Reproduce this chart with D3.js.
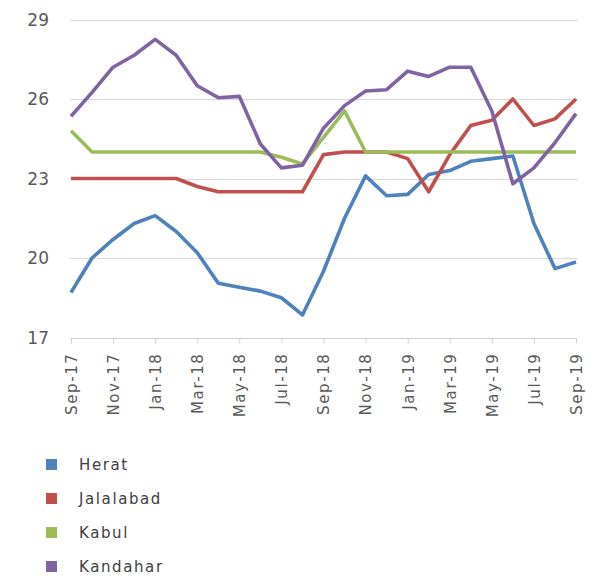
<!DOCTYPE html>
<html>
<head>
<meta charset="utf-8">
<script src="https://cdn.jsdelivr.net/npm/d3@7"></script>
<style>
  html, body { margin: 0; padding: 0; background: #fff; }
  svg { display: block; }
</style>
</head>
<body>
<svg id="chart" width="594" height="579"></svg>
<script>
const months = ["Sep-17","Oct-17","Nov-17","Dec-17","Jan-18","Feb-18","Mar-18","Apr-18","May-18","Jun-18","Jul-18","Aug-18","Sep-18","Oct-18","Nov-18","Dec-18","Jan-19","Feb-19","Mar-19","Apr-19","May-19","Jun-19","Jul-19","Aug-19","Sep-19"];
const tickLabels = ["Sep-17","Nov-17","Jan-18","Mar-18","May-18","Jul-18","Sep-18","Nov-18","Jan-19","Mar-19","May-19","Jul-19","Sep-19"];
const yTicks = [17, 20, 23, 26, 29];

const herat     = [18.7, 20.0, 20.7, 21.3, 21.6, 21.0, 20.2, 19.05, 18.9, 18.75, 18.5, 17.85, 19.5, 21.5, 23.1, 22.35, 22.4, 23.15, 23.3, 23.65, 23.75, 23.85, 21.3, 19.6, 19.85];
const jalalabad = [23.0, 23.0, 23.0, 23.0, 23.0, 23.0, 22.7, 22.5, 22.5, 22.5, 22.5, 22.5, 23.9, 24.0, 24.0, 24.0, 23.75, 22.5, 23.9, 25.0, 25.2, 26.0, 25.0, 25.25, 26.0];
const kabul     = [24.8, 24.0, 24.0, 24.0, 24.0, 24.0, 24.0, 24.0, 24.0, 24.0, 23.8, 23.55, 24.55, 25.55, 24.0, 24.0, 24.0, 24.0, 24.0, 24.0, 24.0, 24.0, 24.0, 24.0, 24.0];
const kandahar  = [25.35, 26.25, 27.2, 27.65, 28.25, 27.65, 26.5, 26.05, 26.1, 24.3, 23.4, 23.5, 24.9, 25.75, 26.3, 26.35, 27.05, 26.85, 27.2, 27.2, 25.55, 22.8, 23.4, 24.35, 25.45];

const seriesNames = ["Herat", "Jalalabad", "Kabul", "Kandahar"];
const seriesValues = [herat, jalalabad, kabul, kandahar];
const colors = ["#4f81bd", "#c0504d", "#9bbb59", "#8064a2"];

const svg = d3.select("#chart");
const x = d3.scalePoint().domain(months).range([71, 576]);
const y = d3.scaleLinear().domain([17, 29]).range([337.5, 19.5]);

// gridlines
svg.append("g").selectAll("line").data(yTicks.filter(d => d !== 17)).join("line")
  .attr("x1", 70).attr("x2", 578)
  .attr("y1", d => Math.round(y(d)) + 0.5).attr("y2", d => Math.round(y(d)) + 0.5)
  .attr("stroke", "#d9d9d9").attr("stroke-width", 1);

// y labels
svg.append("g").selectAll("text").data(yTicks).join("text")
  .attr("x", 49).attr("y", d => y(d))
  .attr("dy", "0.36em")
  .attr("text-anchor", "end")
  .attr("font-family", "DejaVu Sans, sans-serif")
  .attr("font-size", 17)
  .attr("fill", "#595959")
  .text(d => d);

// x axis
const xAxis = d3.axisBottom(x)
  .tickValues(tickLabels)
  .tickSize(5)
  .tickSizeOuter(0);
const gx = svg.append("g").attr("transform", `translate(0,${Math.round(y(17)) + 0.5})`).call(xAxis);
gx.select(".domain").attr("stroke", "#d0d0d0").attr("d", "M70,0H577");
gx.selectAll(".tick line").attr("stroke", "#d0d0d0");
gx.selectAll(".tick text")
  .attr("transform", "rotate(-90)")
  .attr("x", -14).attr("y", 0).attr("dy", "0.36em")
  .attr("text-anchor", "end")
  .attr("font-family", "DejaVu Sans, sans-serif")
  .attr("font-size", 15)
  .attr("letter-spacing", "1.6px")
  .attr("fill", "#595959");

// lines
const line = d3.line().x((d, i) => x(months[i])).y(d => y(d));
svg.append("g").selectAll("path").data(seriesValues).join("path")
  .attr("d", d => line(d))
  .attr("fill", "none")
  .attr("stroke", (d, i) => colors[i])
  .attr("stroke-width", 3.6)
  .attr("stroke-linejoin", "round")
  .attr("stroke-linecap", "butt");

// legend
const legend = svg.append("g").selectAll("g").data(seriesNames).join("g")
  .attr("transform", (d, i) => `translate(0,${465 + i * 34})`);
legend.append("rect")
  .attr("x", 46).attr("y", -6).attr("width", 11).attr("height", 11)
  .attr("fill", (d, i) => colors[i]);
legend.append("text")
  .attr("x", 79).attr("y", 0).attr("dy", "0.36em")
  .attr("font-family", "DejaVu Sans, sans-serif")
  .attr("font-size", 15)
  .attr("letter-spacing", "1.6px")
  .attr("fill", "#404040")
  .text(d => d);
</script>
</body>
</html>
